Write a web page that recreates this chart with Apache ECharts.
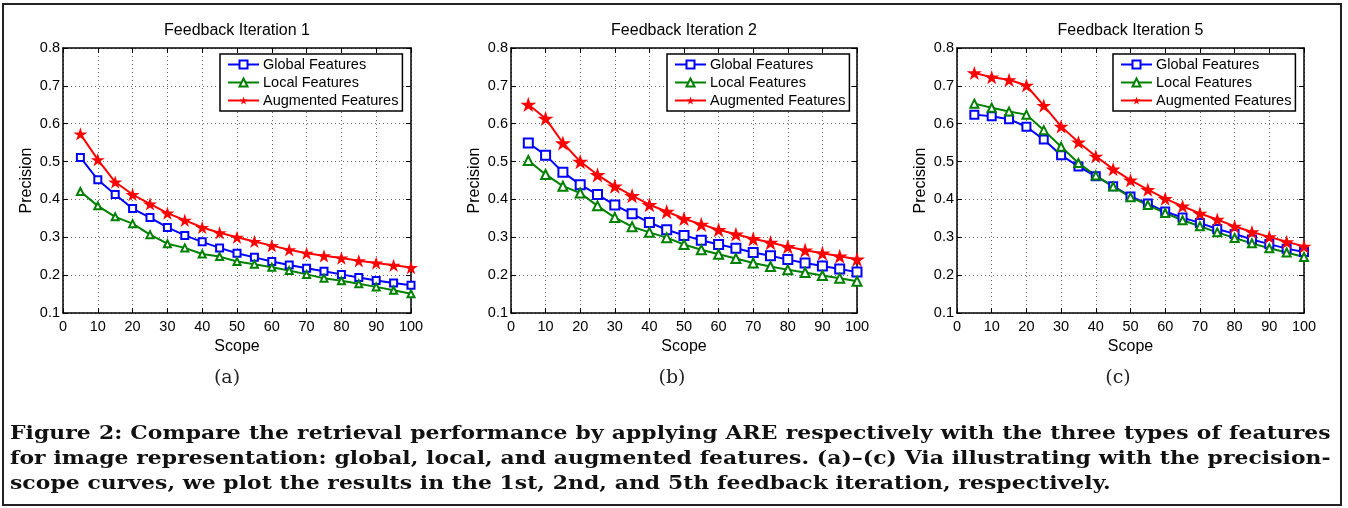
<!DOCTYPE html>
<html>
<head>
<meta charset="utf-8">
<script src="https://cdn.jsdelivr.net/npm/echarts@6/dist/echarts.min.js"></script>
<style>
  html, body { margin: 0; padding: 0; background: #fff; }
  #main { position: absolute; left: 0; top: 0; width: 1348px; height: 508px; }
  .frame { position: absolute; left: 2px; top: 3px; width: 1340px; height: 503px; box-sizing: border-box; border: 2px solid #222; pointer-events: none; }
  .caption { position: absolute; left: 10px; top: 420px; width: 1087px; font: bold 18px "DejaVu Serif", serif; letter-spacing: 0.05px; line-height: 25px; color: #111; transform: scaleX(1.215); transform-origin: 0 0; }
  .caption div { text-align: justify; text-align-last: justify; white-space: nowrap; }
  .caption div.last { text-align-last: left; }
</style>
</head>
<body>
<div id="main"></div>
<div class="frame"></div>
<div class="caption">
  <div>Figure 2: Compare the retrieval performance by applying ARE respectively with the three types of features</div>
  <div>for image representation: global, local, and augmented features. (a)–(c) Via illustrating with the precision-</div>
  <div class="last">scope curves, we plot the results in the 1st, 2nd, and 5th feedback iteration, respectively.</div>
</div>
<script>
const scope = [5, 10, 15, 20, 25, 30, 35, 40, 45, 50, 55, 60, 65, 70, 75, 80, 85, 90, 95, 100]
const seriesNames = ['Global Features', 'Local Features', 'Augmented Features']
const titles = ['Feedback Iteration 1', 'Feedback Iteration 2', 'Feedback Iteration 5']
const subLabels = ['(a)', '(b)', '(c)']

const iter1Global = [0.511, 0.452, 0.413, 0.376, 0.352, 0.326, 0.305, 0.288, 0.272, 0.258, 0.247, 0.236, 0.227, 0.218, 0.210, 0.202, 0.194, 0.186, 0.179, 0.173]
const iter1Local = [0.421, 0.383, 0.354, 0.336, 0.307, 0.283, 0.272, 0.256, 0.249, 0.236, 0.229, 0.221, 0.212, 0.202, 0.192, 0.185, 0.177, 0.169, 0.160, 0.151]
const iter1Aug = [0.573, 0.505, 0.446, 0.413, 0.388, 0.364, 0.345, 0.326, 0.312, 0.300, 0.289, 0.278, 0.267, 0.258, 0.251, 0.245, 0.238, 0.232, 0.226, 0.220]

const iter2Global = [0.549, 0.517, 0.472, 0.439, 0.413, 0.385, 0.362, 0.339, 0.320, 0.305, 0.292, 0.281, 0.271, 0.260, 0.251, 0.241, 0.232, 0.224, 0.216, 0.208]
const iter2Local = [0.503, 0.466, 0.435, 0.417, 0.383, 0.352, 0.328, 0.313, 0.299, 0.281, 0.267, 0.255, 0.244, 0.232, 0.223, 0.214, 0.207, 0.199, 0.192, 0.184]
const iter2Aug = [0.651, 0.614, 0.549, 0.500, 0.465, 0.435, 0.410, 0.386, 0.368, 0.349, 0.334, 0.320, 0.308, 0.296, 0.286, 0.275, 0.266, 0.258, 0.250, 0.242]

const iter5Global = [0.624, 0.620, 0.612, 0.592, 0.558, 0.517, 0.487, 0.461, 0.435, 0.408, 0.389, 0.368, 0.352, 0.338, 0.322, 0.309, 0.294, 0.282, 0.270, 0.261]
const iter5Local = [0.653, 0.642, 0.632, 0.624, 0.583, 0.539, 0.496, 0.463, 0.434, 0.406, 0.385, 0.364, 0.345, 0.329, 0.313, 0.298, 0.284, 0.271, 0.260, 0.248]
const iter5Aug = [0.734, 0.723, 0.716, 0.701, 0.648, 0.593, 0.551, 0.514, 0.480, 0.451, 0.426, 0.402, 0.382, 0.363, 0.347, 0.329, 0.314, 0.301, 0.288, 0.276]

const panelData = [
  [iter1Global, iter1Local, iter1Aug],
  [iter2Global, iter2Local, iter2Aug],
  [iter5Global, iter5Local, iter5Aug]
]

// layout of the three plot boxes (pixels)
const boxes = [
  { left: 63, width: 348, legendLeft: 220, labelX: 227 },
  { left: 511, width: 346, legendLeft: 667, labelX: 672 },
  { left: 957, width: 347, legendLeft: 1113, labelX: 1118 }
]
const markSizes = [7, 9, 8]

const FONT = 'Liberation Sans'
const colors = ['#0000ff', '#008000', '#ff0000']
const star = 'path://M50,0 L61,35 L98,35 L68,57 L79,91 L50,70 L21,91 L32,57 L2,35 L39,35 Z'

const chart = echarts.init(document.getElementById('main'))

const grid = [], xAxis = [], yAxis = [], series = [], title = [], legend = [], graphic = []

const axisLine = { show: true, onZero: false, lineStyle: { color: '#000', width: 1.5 } }
const axisTick = { show: true, inside: true, length: 5, lineStyle: { color: '#000', width: 1 } }
const gridLine = { show: true, lineStyle: { color: '#666', width: 1, type: [1, 3] } }

boxes.forEach((b, i) => {
  grid.push({ left: b.left, top: 48, width: b.width, height: 265 })

  title.push({
    text: titles[i],
    left: b.left + b.width / 2,
    top: 23,
    textAlign: 'center',
    padding: 0,
    textStyle: { fontFamily: FONT, fontSize: 16, fontWeight: 'normal', color: '#000' }
  })

  legend.push({
    data: seriesNames,
    orient: 'vertical',
    left: b.legendLeft,
    top: 54,
    padding: [3, 4, 3, 7],
    itemWidth: 31,
    itemHeight: 10,
    itemGap: 3,
    borderColor: '#000',
    borderWidth: 1.5,
    borderRadius: 0,
    backgroundColor: '#fff',
    selectedMode: false,
    textStyle: { fontFamily: FONT, fontSize: 14.5, color: '#000', padding: [0, 0, 0, -1] }
  })

  xAxis.push({
    type: 'value', gridIndex: i, position: 'bottom',
    min: 0, max: 100, interval: 10,
    axisLine, axisTick, splitLine: gridLine,
    axisLabel: { color: '#000', fontFamily: FONT, fontSize: 14.5, margin: 6 },
    name: 'Scope', nameLocation: 'middle', nameGap: 21,
    nameTextStyle: { color: '#000', fontFamily: FONT, fontSize: 16 }
  })
  xAxis.push({
    type: 'value', gridIndex: i, position: 'top',
    min: 0, max: 100, interval: 10,
    axisLine, axisTick, splitLine: { show: false }, axisLabel: { show: false }
  })
  yAxis.push({
    type: 'value', gridIndex: i, position: 'left',
    min: 0.1, max: 0.8, interval: 0.1,
    axisLine, axisTick, splitLine: gridLine,
    axisLabel: { color: '#000', fontFamily: FONT, fontSize: 14.5, margin: 3, formatter: v => v.toFixed(1) },
    name: 'Precision', nameLocation: 'middle', nameGap: 28,
    nameTextStyle: { color: '#000', fontFamily: FONT, fontSize: 16 }
  })
  yAxis.push({
    type: 'value', gridIndex: i, position: 'right',
    min: 0.1, max: 0.8, interval: 0.1,
    axisLine, axisTick, splitLine: { show: false }, axisLabel: { show: false }
  })

  const symbols = ['emptyRect', 'emptyTriangle', star]
  panelData[i].forEach((vals, k) => {
    series.push({
      name: seriesNames[k],
      type: 'line',
      xAxisIndex: i * 2,
      yAxisIndex: i * 2,
      data: scope.map((x, j) => [x, vals[j]]),
      symbol: symbols[k],
      symbolSize: k === 2 ? markSizes[i] + 7 : markSizes[i],
      symbolKeepAspect: true,
      showAllSymbol: true,
      animation: false,
      lineStyle: { color: colors[k], width: 2 },
      itemStyle: { color: colors[k], borderColor: colors[k], borderWidth: k === 2 ? 0 : 1.5 }
    })
  })

  graphic.push({
    type: 'text',
    style: {
      text: subLabels[i], x: b.labelX, y: 378,
      align: 'center', verticalAlign: 'middle',
      font: '19px "DejaVu Serif"', fill: '#222'
    }
  })
})

chart.setOption({
  animation: false,
  title, legend, grid, xAxis, yAxis, series, graphic
})
</script>
</body>
</html>
